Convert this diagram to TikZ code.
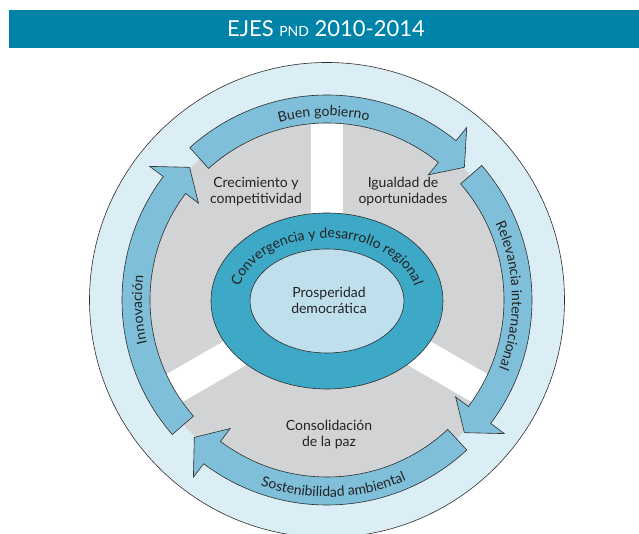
\documentclass[tikz,border=0pt]{standalone}
\usepackage{fontspec}
\setmainfont{Lato}
\usetikzlibrary{decorations.text}
\definecolor{hdr}{RGB}{0,131,168}
\definecolor{outerbg}{RGB}{220,238,245}
\definecolor{band}{RGB}{127,191,217}
\definecolor{sector}{RGB}{209,211,212}
\definecolor{ringc}{RGB}{62,168,199}
\definecolor{corec}{RGB}{190,223,235}
\definecolor{txt}{RGB}{35,35,35}
\definecolor{edge}{RGB}{45,45,45}
\newcommand\lblfont{\fontsize{14}{16}\selectfont}
\newcommand\arcarrow[3]{% tail, back, tip angles
  \path[arrowband] (#1:205) arc[start angle=#1, end angle=#2, radius=205]
    -- (#2:222) -- (#3:191) -- (#2:161) -- (#2:177)
    arc[start angle=#2, end angle=#1, radius=177] -- cycle;}
\begin{document}
\begin{tikzpicture}[x=1pt,y=1pt,
  arrowband/.style={fill=band, draw=edge, line width=0.6pt, line join=miter},
  bandtext/.style={decorate, decoration={text along path, text align=center, text color=txt}},
  lbl/.style={text=txt, font=\lblfont, align=center},
  oval/.style={draw=edge, line width=0.6pt}]
\useasboundingbox (-327,-234) rectangle (312,300);
\clip (-327,-234) rectangle (312,300);
% header
\fill[hdr] (-318,252) rectangle (312,290);
\node[text=white, font=\fontsize{22}{26}\selectfont] (title) at (-1,271)
  {EJES {\fontsize{14}{16}\selectfont PND} 2010-2014};
% outer disc
\draw[fill=outerbg, draw=edge, line width=0.6pt] (0,0) circle[radius=237.5];
% gray sectors
\fill[sector] (0,0) circle[radius=190];
\foreach \a in {90,210,330}
  \fill[white, rotate=\a] (0,-16) rectangle (189,16);
% arrows
\arcarrow{132}{51}{44}
\arcarrow{41}{-37}{-44}
\arcarrow{-47}{-127}{-134}
\arcarrow{221}{143}{136}
% arrow texts
\path[bandtext, decoration={text={|\lblfont|Buen gobierno}}]
  (121:184) arc[start angle=121, end angle=61, radius=184];
\path[bandtext, decoration={text={|\lblfont|Relevancia internacional}}]
  (40:185) arc[start angle=40, end angle=-37, radius=185];
\path[bandtext, decoration={text={|\lblfont|Sostenibilidad ambiental}}]
  (-125:197) arc[start angle=-125, end angle=-51, radius=197];
\path[bandtext, decoration={text={|\lblfont|Innovación}}]
  (205:185) arc[start angle=205, end angle=161, radius=185];
% ellipses
\draw[oval, fill=ringc] (0,-1) ellipse[x radius=116, y radius=88];
\draw[oval, fill=corec] (0,-1) ellipse[x radius=77, y radius=52];
\path[bandtext, decoration={text={|\lblfont|Convergencia y desarrollo regional}}]
  ({90*cos(172)},{-1+63*sin(172)}) arc[start angle=172, end angle=8, x radius=90, y radius=63];
% labels
\node[lbl] (cre) at (-71,108) {Crecimiento y\\competitividad};
\node[lbl] (igu) at (76,108) {Igualdad de\\oportunidades};
\node[lbl] (pro) at (2,0) {Prosperidad\\democrática};
\node[lbl] (con) at (2,-135) {Consolidación\\de la paz};
\end{tikzpicture}
\end{document}
